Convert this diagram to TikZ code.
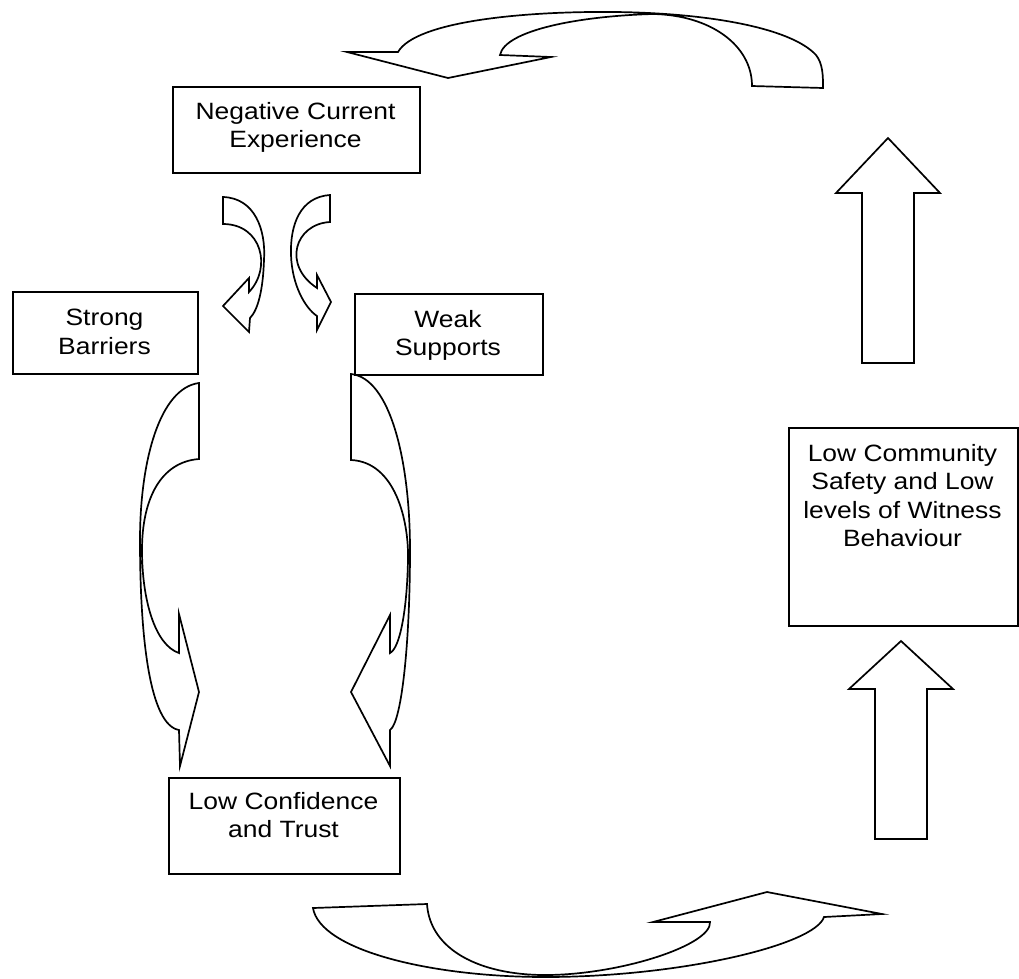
\documentclass[tikz,border=0pt]{standalone}
\usepackage{fontspec}
\setmainfont{Liberation Sans}[FakeStretch=1.12]
\begin{document}
\begin{tikzpicture}[x=1pt,y=-1pt]
\tikzset{
 box/.style={draw, line width=1.7pt, inner sep=0pt, anchor=north west},
 lbl/.style={anchor=north, inner sep=0pt, align=center, font=\fontsize{23.6}{28.5}\selectfont},
 blk/.style={draw, line width=1.7pt, line join=miter},
}
\useasboundingbox (0,0) rectangle (1019,978);
% boxes
\node[box, minimum width=247pt, minimum height=86pt] (neg) at (172,86) {};
\node[box, minimum width=185pt, minimum height=82pt] (strong) at (12,291) {};
\node[box, minimum width=188pt, minimum height=81pt] (weak) at (354,293) {};
\node[box, minimum width=231pt, minimum height=96pt] (conf) at (168,777) {};
\node[box, minimum width=229pt, minimum height=198pt] (comm) at (788,427) {};
% labels
\node[lbl] (negt) at (295.5,102) {Negative Current\\Experience};
\node[lbl] (strongt) at (104.5,309) {Strong\\Barriers};
\node[lbl] (weakt) at (448,310) {Weak\\Supports};
\node[lbl] (conft) at (283.5,792) {Low Confidence\\and Trust};
\node[lbl] (commt) at (902.5,444) {Low Community\\Safety and Low\\levels of Witness\\Behaviour};
% top curved arrow
\draw[blk] (398,52) .. controls (416,21) and (525,11) .. (615,12) .. controls (705,13) and (790,27) .. (816,55) .. controls (823,64) and (823,76) .. (823,88) -- (752,86) .. controls (752,45) and (710,15) .. (653,14) .. controls (580,16) and (505,30) .. (500,55) -- (551,57) -- (448,78) -- (347,52) -- cycle;
% bottom curved arrow
\draw[blk] (313,908) -- (427,904) .. controls (430,950) and (480,975) .. (545,975) .. controls (620,975) and (712,945) .. (710,922) -- (653,922) -- (767,892) -- (882,914) -- (824,917) .. controls (815,945) and (680,977) .. (545,977) .. controls (430,977) and (320,950) .. (313,908) -- cycle;
% small left arrow
\draw[blk] (223,197) .. controls (255,198) and (266,230) .. (264,260) .. controls (263,290) and (258,310) .. (250,318) -- (249,332) -- (223,306) -- (249,278) -- (249,292) .. controls (272,268) and (262,224) .. (223,224) -- cycle;
% small right arrow
\draw[blk] (330,195) .. controls (300,197) and (290,225) .. (291,255) .. controls (292,285) and (305,308) .. (317,316) -- (317,330) -- (331,302) -- (317,275) -- (317,288) .. controls (282,265) and (295,224) .. (330,222) -- cycle;
% big left arrow
\draw[blk] (199,383) .. controls (160,388) and (140,460) .. (140,540) .. controls (140,640) and (150,725) .. (179,730) -- (180,766) -- (199,692) -- (179,614) -- (179,653) .. controls (155,645) and (142,600) .. (142,550) .. controls (142,500) and (160,462) .. (199,459) -- cycle;
% big right arrow
\draw[blk] (351,374) .. controls (390,378) and (410,460) .. (410,550) .. controls (410,640) and (402,722) .. (390,730) -- (390,766) -- (351,692) -- (390,615) -- (390,653) .. controls (400,648) and (407,610) .. (408,560) .. controls (409,520) and (395,462) .. (351,460) -- cycle;
% up arrows
\draw[blk] (862,363) -- (862,193) -- (836,193) -- (888,138) -- (940,193) -- (914,193) -- (914,363) -- cycle;
\draw[blk] (875,839) -- (875,689) -- (849,689) -- (901,641) -- (953,689) -- (927,689) -- (927,839) -- cycle;
\end{tikzpicture}
\end{document}
